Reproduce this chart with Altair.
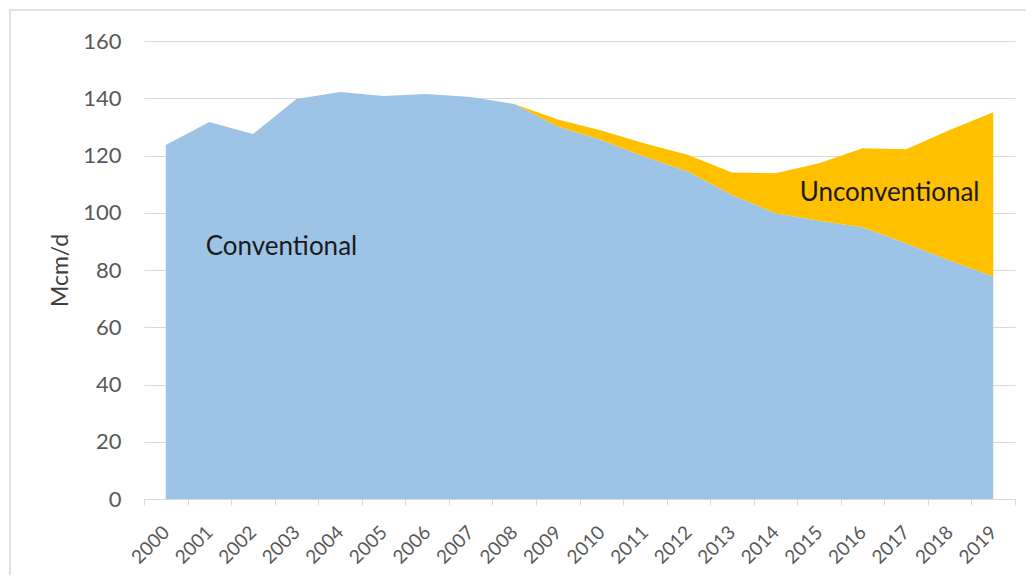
import altair as alt
import pandas as pd

years = list(range(2000, 2020))
conventional = [123.7, 131.7, 127.5, 139.7, 142.2, 140.8, 141.5, 140.4, 138.0, 130.1,
                125.4, 119.6, 114.3, 106.2, 99.8, 97.2, 94.9, 89.3, 83.3, 77.7]
unconventional = [0, 0, 0, 0, 0, 0, 0, 0, 0, 2.5,
                  3.3, 4.6, 5.9, 7.9, 14.0, 20.1, 27.6, 32.9, 45.6, 57.4]
y_ticks = [0, 20, 40, 60, 80, 100, 120, 140, 160]

ann_text = ["Conventional", "Unconventional"]
ann_year = [2003, 2016]
ann_value = [88, 107]
ann_dx = [-15, 27]

rows = []
for y, c, u in zip(years, conventional, unconventional):
    rows.append({"year": str(y), "series": "Conventional", "value": c, "ord": 0})
    rows.append({"year": str(y), "series": "Unconventional", "value": u, "ord": 1})
df = pd.DataFrame(rows)

W, H = 871, 458
FONT = "Lato"

xscale = alt.Scale(type="band", paddingInner=0, paddingOuter=0, domain=[str(y) for y in years])
yscale = alt.Scale(domain=[0, 160], nice=False)

area = alt.Chart(df).mark_area(opacity=1).encode(
    x=alt.X("year:O", scale=xscale, bandPosition=0.5,
            axis=alt.Axis(title=None, tickBand="extent", labelAngle=-45, labelAlign="right",
                          labelBaseline="middle", labelFontSize=19, labelColor="#595959",
                          labelFont=FONT, domainColor="#D9D9D9", tickColor="#D9D9D9",
                          tickSize=6, labelPadding=24, grid=False)),
    y=alt.Y("value:Q", stack="zero", scale=yscale,
            axis=alt.Axis(title="Mcm/d", values=y_ticks, domain=False, ticks=False,
                          gridColor="#D9D9D9", labelFontSize=22, labelColor="#595959",
                          labelFont=FONT, labelPadding=23, titleFont=FONT, titleFontSize=23,
                          titleColor="#404040", titleFontWeight="normal", titlePadding=10)),
    color=alt.Color("series:N", scale=alt.Scale(domain=["Conventional", "Unconventional"],
                                                range=["#9DC3E6", "#FFC000"]), legend=None),
    order=alt.Order("ord:Q"),
)

texts = []
for t, yr, v, dx in zip(ann_text, ann_year, ann_value, ann_dx):
    texts.append(
        alt.Chart(pd.DataFrame({"text": [t], "year": [str(yr)], "value": [v]}))
        .mark_text(fontSize=26, font=FONT, color="#1a1a1a", align="center",
                   baseline="middle", dx=dx)
        .encode(
            x=alt.X("year:O", scale=xscale, bandPosition=0.5),
            y=alt.Y("value:Q", scale=yscale),
            text="text:N",
        )
    )

border = alt.Chart(pd.DataFrame({"a": [0]})).mark_rect(fill=None, stroke="#D9D9D9",
                                                        strokeWidth=1.5).encode(
    x=alt.value(-134), x2=alt.value(W + 20), y=alt.value(-31), y2=alt.value(H + 100)
)

chart = alt.layer(border, area, *texts).properties(
    width=W, height=H,
    padding={"left": 136, "top": 33, "right": 11, "bottom": 76},
    autosize=alt.AutoSizeParams(type="none"),
).configure_view(stroke=None)

chart.save("out.html", embed_options={"renderer": "svg", "actions": False})
